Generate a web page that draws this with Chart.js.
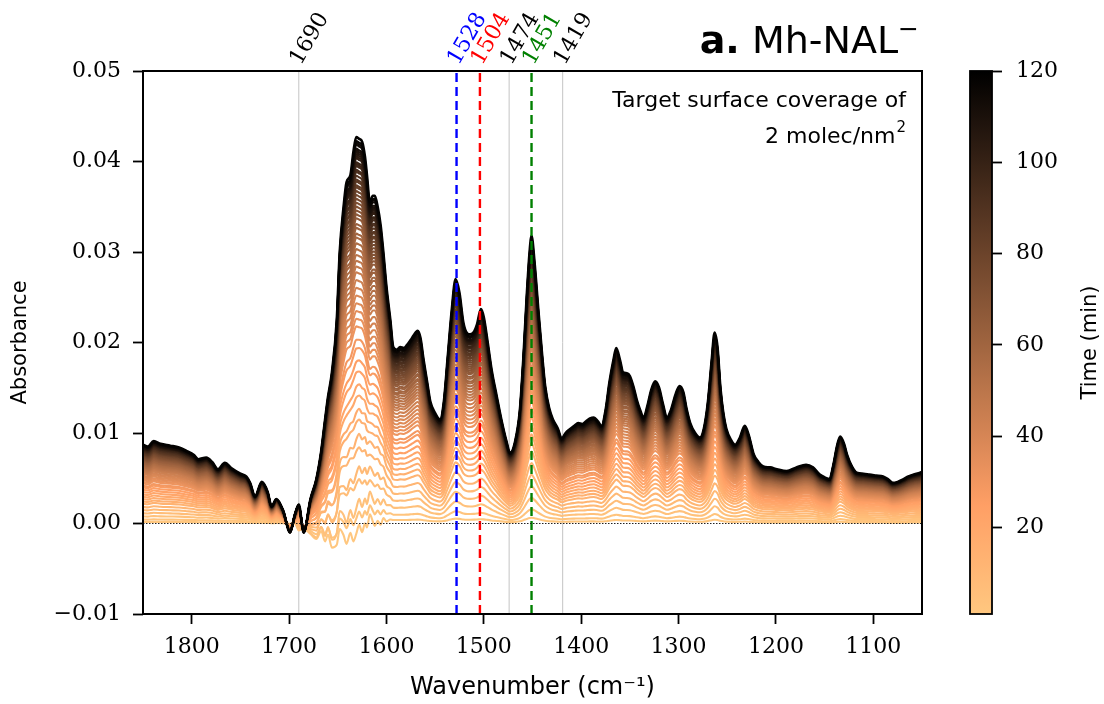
<!DOCTYPE html>
<html>
<head>
<meta charset="utf-8">
<script src="https://cdn.jsdelivr.net/npm/chart.js@4.4.1/dist/chart.umd.min.js"></script>
<style>
  html, body { margin: 0; padding: 0; background: #fff; }
  #wrap { position: relative; width: 1104px; height: 704px; }
  #wrap canvas { position: absolute; left: 0; top: 0; }
</style>
</head>
<body>
<div id="wrap">
  <canvas id="spectra" width="1104" height="704"></canvas>
  <canvas id="cbar" width="1104" height="704"></canvas>
</div>
<script>
// Wavenumber grid (cm^-1) and absorbance of the last recorded spectrum (t = 119 min)
const WAVENUMBER = [
  1850, 1845, 1839, 1832, 1822, 1813, 1805, 1798, 1793, 1785, 1779, 1773, 1766, 1759, 1750, 1744,
  1740, 1735, 1728, 1722, 1718, 1713, 1706, 1699, 1694, 1690, 1685, 1678, 1672, 1667, 1663, 1660,
  1656, 1651, 1648, 1644, 1641, 1637, 1634, 1631, 1628, 1625, 1622, 1620, 1617, 1614, 1612, 1609,
  1606, 1603, 1600, 1596, 1593, 1589, 1586, 1582, 1579, 1575, 1572, 1568, 1565, 1562, 1558, 1555,
  1550, 1545, 1541, 1537, 1533, 1529, 1525, 1521, 1517, 1514, 1510, 1507, 1503, 1500, 1496, 1492,
  1487, 1482, 1477, 1473, 1468, 1463, 1459, 1456, 1453, 1451, 1448, 1444, 1440, 1437, 1433, 1429,
  1424, 1420, 1416, 1412, 1407, 1403, 1399, 1395, 1391, 1387, 1383, 1379, 1375, 1371, 1367, 1364,
  1360, 1357, 1353, 1350, 1346, 1343, 1339, 1336, 1332, 1328, 1324, 1320, 1316, 1312, 1308, 1303,
  1299, 1295, 1292, 1288, 1283, 1278, 1274, 1270, 1266, 1263, 1260, 1257, 1254, 1251, 1246, 1242,
  1237, 1232, 1228, 1223, 1218, 1213, 1206, 1199, 1189, 1179, 1169, 1162, 1155, 1150, 1145, 1141,
  1137, 1134, 1130, 1127, 1122, 1117, 1110, 1104, 1097, 1090, 1085, 1080, 1075, 1069, 1064, 1059,
  1052, 1050
];
const ABS_FINAL = [
  0.0087, 0.0085, 0.0091, 0.0088, 0.0086, 0.0084, 0.0080, 0.0076, 0.0071, 0.0073, 0.0068, 0.0060, 0.0067, 0.0061, 0.0055, 0.0052,
  0.0045, 0.0030, 0.0046, 0.0035, 0.0019, 0.0027, 0.0014, -0.0010, 0.0010, 0.0021, -0.0010, 0.0027, 0.0049, 0.0080, 0.0115, 0.0140,
  0.0167, 0.0225, 0.0300, 0.0350, 0.0377, 0.0385, 0.0410, 0.0427, 0.0425, 0.0422, 0.0405, 0.0385, 0.0355, 0.0362, 0.0362, 0.0350,
  0.0330, 0.0298, 0.0262, 0.0225, 0.0195, 0.0192, 0.0195, 0.0194, 0.0197, 0.0203, 0.0208, 0.0213, 0.0205, 0.0182, 0.0155, 0.0135,
  0.0122, 0.0115, 0.0135, 0.0185, 0.0235, 0.0270, 0.0255, 0.0222, 0.0210, 0.0209, 0.0212, 0.0220, 0.0237, 0.0228, 0.0200, 0.0170,
  0.0142, 0.0115, 0.0092, 0.0078, 0.0090, 0.0125, 0.0190, 0.0250, 0.0300, 0.0318, 0.0290, 0.0236, 0.0185, 0.0152, 0.0128, 0.0115,
  0.0105, 0.0094, 0.0100, 0.0104, 0.0108, 0.0111, 0.0110, 0.0113, 0.0116, 0.0117, 0.0113, 0.0108, 0.0125, 0.0156, 0.0180, 0.0194,
  0.0180, 0.0167, 0.0166, 0.0163, 0.0150, 0.0137, 0.0124, 0.0117, 0.0130, 0.0148, 0.0157, 0.0150, 0.0132, 0.0117, 0.0125, 0.0143,
  0.0152, 0.0145, 0.0128, 0.0111, 0.0100, 0.0095, 0.0105, 0.0133, 0.0180, 0.0211, 0.0195, 0.0150, 0.0122, 0.0105, 0.0092, 0.0087,
  0.0095, 0.0108, 0.0098, 0.0077, 0.0068, 0.0063, 0.0062, 0.0060, 0.0058, 0.0062, 0.0065, 0.0062, 0.0054, 0.0051, 0.0049, 0.0065,
  0.0087, 0.0096, 0.0088, 0.0076, 0.0063, 0.0056, 0.0055, 0.0054, 0.0053, 0.0052, 0.0049, 0.0045, 0.0046, 0.0049, 0.0052, 0.0054,
  0.0056, 0.0057
];

// Acquisition times (min) and band intensity relative to the last spectrum
const TIMES = [
  1, 3, 5, 7, 9, 11, 13, 15, 17, 19, 21, 23, 25, 27, 29, 31, 33, 35, 37, 39,
  41, 43, 45, 47, 49, 51, 53, 55, 57, 59, 61, 63, 65, 67, 69, 71, 73, 75, 77, 79,
  81, 83, 85, 87, 89, 91, 93, 95, 97, 99, 101, 103, 105, 107, 109, 111, 113, 115, 117, 119
];
const COVERAGE = [
  0.02, 0.05, 0.09, 0.13, 0.17, 0.21, 0.25, 0.28, 0.31, 0.34, 0.37, 0.40, 0.43, 0.46, 0.48, 0.51, 0.53, 0.55, 0.57, 0.59,
  0.61, 0.63, 0.65, 0.665, 0.68, 0.695, 0.71, 0.725, 0.74, 0.75, 0.765, 0.775, 0.79, 0.80, 0.81, 0.82, 0.83, 0.84, 0.85, 0.86,
  0.87, 0.875, 0.885, 0.89, 0.90, 0.91, 0.915, 0.925, 0.93, 0.935, 0.945, 0.95, 0.955, 0.96, 0.965, 0.97, 0.98, 0.985, 0.99, 1.0
];

// Water-band residue in the first spectra (amide / bending region)
const EARLY_WN = [1690, 1685, 1678, 1672, 1667, 1663, 1660, 1656, 1651, 1648, 1644, 1641, 1637, 1634, 1631, 1628,
  1625, 1622, 1620, 1617, 1614, 1612, 1609, 1606, 1603, 1600];
const EARLY_DEV = [-0.0008, -0.0005, -0.0012, -0.0018, -0.0010, -0.0022, -0.0015, -0.0030, -0.0028, -0.0012, -0.0020,
  -0.0030, -0.0018, -0.0028, -0.0020, -0.0010, -0.0018, -0.0008, -0.0012, 0.0003, -0.0005, -0.0010, -0.0004, -0.0008,
  0.0000, -0.0003];
const EARLY_WEIGHT = [1.0, 0.8, 1.1, 0.6, 0.9, 0.5, 0.7, 0.4, 0.5, 0.3, 0.35, 0.2, 0.25, 0.15, 0.1];

// Reference band positions marked above the plot
const MARKER_WN = [1690, 1528, 1504, 1474, 1451, 1419];
const MARKER_LINE = ['#c4c4c4', '#0000ff', '#ff0000', '#c4c4c4', '#008000', '#c4c4c4'];
const MARKER_TEXT = ['#000000', '#0000ff', '#ff0000', '#000000', '#008000', '#000000'];
const MARKER_DASHED = [false, true, true, false, true, false];

const X_TICKS = [1800, 1700, 1600, 1500, 1400, 1300, 1200, 1100];
const Y_TICKS = [-0.01, 0.00, 0.01, 0.02, 0.03, 0.04, 0.05];
const CB_TICKS = [20, 40, 60, 80, 100, 120];
const T_MIN = 1, T_MAX = 120;

const SERIF = "'DejaVu Serif', serif";
const SANS = "'DejaVu Sans', sans-serif";

// reversed "copper" colour map: light orange at t = T_MIN, black at t = T_MAX
function copper(t) {
  const x = 1 - (t - T_MIN) / (T_MAX - T_MIN);
  const r = Math.min(1, 1.25 * x), g = 0.7812 * x, b = 0.4975 * x;
  return `rgb(${Math.round(r * 255)},${Math.round(g * 255)},${Math.round(b * 255)})`;
}

const datasets = [];

// band markers: grey guides behind, coloured dashed lines in front
MARKER_WN.forEach((wn, i) => {
  datasets.push({
    data: [{ x: wn, y: Y_TICKS[0] }, { x: wn, y: Y_TICKS[Y_TICKS.length - 1] }],
    borderColor: MARKER_LINE[i],
    borderWidth: MARKER_DASHED[i] ? 2.4 : 1,
    borderDash: MARKER_DASHED[i] ? [9, 5] : [],
    pointRadius: 0,
    order: MARKER_DASHED[i] ? -10 : 5000
  });
});

// time series of spectra, later spectra drawn on top
TIMES.forEach((t, i) => {
  const w = EARLY_WEIGHT[i] || 0;
  const data = WAVENUMBER.map((wn, k) => {
    const j = EARLY_WN.indexOf(wn);
    const dev = j >= 0 ? w * EARLY_DEV[j] : 0;
    return { x: wn, y: COVERAGE[i] * ABS_FINAL[k] + dev };
  });
  datasets.push({
    data,
    borderColor: copper(t),
    borderWidth: i === TIMES.length - 1 ? 2.6 : 2.1,
    pointRadius: 0,
    cubicInterpolationMode: 'monotone',
    order: 1000 - i
  });
});

// zero baseline
datasets.push({
  data: [{ x: 1850, y: 0 }, { x: 1050, y: 0 }],
  borderColor: '#222',
  borderWidth: 1,
  borderDash: [1.5, 1.5],
  pointRadius: 0,
  order: -20
});

const decorations = {
  id: 'decorations',
  afterDraw(chart) {
    const { ctx, chartArea: a, scales: { x } } = chart;
    ctx.save();
    // frame
    ctx.strokeStyle = '#000';
    ctx.lineWidth = 2;
    ctx.strokeRect(a.left, a.top, a.right - a.left, a.bottom - a.top);

    // rotated band labels
    ctx.font = `22px ${SERIF}`;
    ctx.textAlign = 'left';
    ctx.textBaseline = 'alphabetic';
    MARKER_WN.forEach((wn, i) => {
      const px = x.getPixelForValue(wn);
      ctx.save();
      ctx.translate(px + 2, a.top - 5);
      ctx.rotate(-Math.PI / 3);
      ctx.fillStyle = MARKER_TEXT[i];
      ctx.fillText(String(wn), 0, 0);
      ctx.restore();
    });

    // panel title
    ctx.fillStyle = '#000';
    ctx.textAlign = 'left';
    const fBold = `bold 38px ${SANS}`, fReg = `38px ${SANS}`, fSup = `25px ${SANS}`;
    ctx.font = fBold; const wA = ctx.measureText('a.').width;
    ctx.font = fReg; const wM = ctx.measureText(' Mh-NAL').width;
    ctx.font = fSup; const wS = ctx.measureText('\u2212').width;
    let tx = 919 - (wA + wM + wS);
    ctx.font = fBold; ctx.fillText('a.', tx, 53); tx += wA;
    ctx.font = fReg; ctx.fillText(' Mh-NAL', tx, 53); tx += wM;
    ctx.font = fSup; ctx.fillText('\u2212', tx, 37);

    // annotation inside the axes
    ctx.font = `22px ${SANS}`;
    ctx.textAlign = 'right';
    ctx.fillText('Target surface coverage of', 906, 107);
    ctx.font = `15px ${SANS}`;
    const w2 = ctx.measureText('2').width;
    ctx.fillText('2', 906, 132);
    ctx.font = `22px ${SANS}`;
    ctx.fillText('2 molec/nm', 906 - w2 - 1, 143);
    ctx.restore();
  }
};

new Chart(document.getElementById('spectra'), {
  type: 'line',
  data: { datasets },
  options: {
    responsive: false,
    animation: false,
    devicePixelRatio: 1,
    layout: { padding: { left: 0, top: 71, right: 182, bottom: 0 } },
    plugins: { legend: { display: false }, tooltip: { enabled: false } },
    scales: {
      x: {
        type: 'linear',
        reverse: true,
        min: 1050,
        max: 1850,
        afterBuildTicks: s => { s.ticks = X_TICKS.map(v => ({ value: v })); },
        afterFit: s => { s.height = 90; },
        ticks: { font: { family: SERIF, size: 22 }, color: '#000', padding: 10, maxRotation: 0, callback: v => String(v) },
        grid: { drawOnChartArea: false, drawTicks: true, tickLength: 10, tickWidth: 1.8, tickColor: '#000' },
        border: { display: false },
        title: { display: true, text: 'Wavenumber (cm\u207B\u00B9)', color: '#000', font: { family: SANS, size: 24 }, padding: { top: 0, bottom: 2 } }
      },
      y: {
        type: 'linear',
        min: -0.01,
        max: 0.05,
        afterBuildTicks: s => { s.ticks = Y_TICKS.map(v => ({ value: v })); },
        afterFit: s => { s.width = 143; },
        ticks: {
          font: { family: SERIF, size: 22 }, color: '#000', padding: 12,
          callback: v => v.toFixed(2).replace('-', '\u2212')
        },
        grid: { drawOnChartArea: false, drawTicks: true, tickLength: 10, tickWidth: 1.8, tickColor: '#000' },
        border: { display: false },
        title: { display: true, text: 'Absorbance', color: '#000', font: { family: SANS, size: 21 }, padding: { top: 8, bottom: 0 } }
      }
    }
  },
  plugins: [decorations]
});

// colour bar for acquisition time
const cbFrame = {
  id: 'cbFrame',
  afterDraw(chart) {
    const { ctx, chartArea: a } = chart;
    ctx.save();
    ctx.strokeStyle = '#000';
    ctx.lineWidth = 1.8;
    ctx.strokeRect(a.left, a.top, a.right - a.left, a.bottom - a.top);
    // axis title, reading upwards
    ctx.translate(1091, (a.top + a.bottom) / 2);
    ctx.rotate(-Math.PI / 2);
    ctx.font = `21px ${SANS}`;
    ctx.fillStyle = '#000';
    ctx.textAlign = 'center';
    ctx.textBaseline = 'middle';
    ctx.fillText('Time (min)', 0, 0);
    ctx.restore();
  }
};

new Chart(document.getElementById('cbar'), {
  type: 'bar',
  data: {
    labels: ['time'],
    datasets: [{
      data: [[T_MIN, T_MAX]],
      borderWidth: 0,
      barPercentage: 1,
      categoryPercentage: 1,
      backgroundColor: c => {
        const { ctx, chartArea, scales } = c.chart;
        if (!chartArea) return copper(T_MIN);
        const y = scales.y;
        const g = ctx.createLinearGradient(0, y.getPixelForValue(T_MIN), 0, y.getPixelForValue(T_MAX));
        for (let k = 0; k <= 20; k++) {
          g.addColorStop(k / 20, copper(T_MIN + (T_MAX - T_MIN) * k / 20));
        }
        return g;
      }
    }]
  },
  options: {
    responsive: false,
    animation: false,
    devicePixelRatio: 1,
    layout: { padding: { left: 970, top: 71, right: 0, bottom: 90 } },
    plugins: { legend: { display: false }, tooltip: { enabled: false } },
    scales: {
      x: { display: false },
      y: {
        position: 'right',
        min: T_MIN,
        max: T_MAX,
        afterBuildTicks: s => { s.ticks = CB_TICKS.map(v => ({ value: v })); },
        afterFit: s => { s.width = 112; },
        ticks: { font: { family: SERIF, size: 22 }, color: '#000', padding: 14 },
        grid: { drawOnChartArea: false, drawTicks: true, tickLength: 10, tickWidth: 1.8, tickColor: '#000' },
        border: { display: false },
        title: { display: false }
      }
    }
  },
  plugins: [cbFrame]
});
</script>
</body>
</html>
